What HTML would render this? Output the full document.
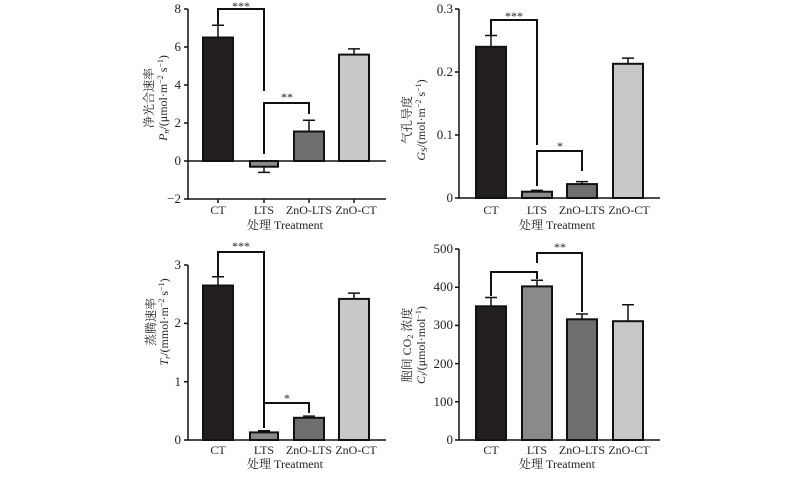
<!DOCTYPE html>
<html><head><meta charset="utf-8"><style>
body{margin:0;background:#fff}
text{font-family:"Liberation Serif","Noto Serif CJK SC",serif;fill:#222}
</style></head><body>
<svg width="800" height="474" viewBox="0 0 800 474" xmlns="http://www.w3.org/2000/svg">
<g stroke="#111" stroke-width="1.5" fill="none">
<path d="M188,9 V199 H386 M188,161 H386"/>
<path d="M184,9H188M184,47H188M184,85H188M184,123H188M184,161H188M184,199H188"/>
<path d="M218,199V203M264,199V203M309,199V203M354,199V203"/>
<path d="M218,37.5V25.2M212,25.2H224 M264,166.7V172.4M258,172.4H270 M309,131.5V120.2M303,120.2H315 M354,54.6V48.9M348,48.9H360"/>
<path d="M218,25 V9 H264 V91 M264,154 V103 H309 V114" stroke-width="2"/>
<path d="M459,9 V198 H660"/>
<path d="M455,9H459M455,72H459M455,135H459M455,198H459"/>
<path d="M491,46.8V35.5M485,35.5H497 M537,191.7V190.4M531,190.4H543 M582,184.1V181.6M576,181.6H588 M628,63.8V58.1M622,58.1H634"/>
<path d="M491,35 V20 H537 V145 M537,186 V151 H582 V171" stroke-width="2"/>
<path d="M188,265 V440 H386"/>
<path d="M184,265H188M184,323.4H188M184,381.7H188M184,440H188"/>
<path d="M218,285.5V276.8M212,276.8H224 M264,432.4V430.7M258,430.7H270 M309,417.8V416.1M303,416.1H315 M354,298.9V293.1M348,293.1H360"/>
<path d="M218,276 V252 H264 V428 M264,428 V403 H309 V413" stroke-width="2"/>
<path d="M459,249 V440 H660"/>
<path d="M455,249H459M455,287.2H459M455,325.4H459M455,363.6H459M455,401.8H459M455,440H459"/>
<path d="M491,306.3V297.5M485,297.5H497 M537,286.4V280.3M531,280.3H543 M582,319.3V314M576,314H588 M628,321.2V304.8M622,304.8H634"/>
<path d="M491,296 V272 H537 V279 M537,263 V253 H582 V312" stroke-width="2"/>
</g>
<g stroke="#111" stroke-width="2">
<rect x="203" y="37.5" width="30" height="123.5" fill="#231f20"/>
<rect x="250" y="161" width="28" height="5.7" fill="#8a8a8a"/>
<rect x="294" y="131.5" width="30" height="29.5" fill="#6e6e6e"/>
<rect x="339" y="54.6" width="30" height="106.4" fill="#c8c8c8"/>
<rect x="476" y="46.8" width="30" height="151.2" fill="#231f20"/>
<rect x="522" y="191.7" width="30" height="6.3" fill="#8a8a8a"/>
<rect x="567" y="184.1" width="30" height="13.9" fill="#6e6e6e"/>
<rect x="613" y="63.8" width="30" height="134.2" fill="#c8c8c8"/>
<rect x="203" y="285.5" width="30" height="154.5" fill="#231f20"/>
<rect x="250" y="432.4" width="28" height="7.6" fill="#8a8a8a"/>
<rect x="294" y="417.8" width="30" height="22.2" fill="#6e6e6e"/>
<rect x="339" y="298.9" width="30" height="141.1" fill="#c8c8c8"/>
<rect x="476" y="306.3" width="30" height="133.7" fill="#231f20"/>
<rect x="522" y="286.4" width="30" height="153.6" fill="#8a8a8a"/>
<rect x="567" y="319.3" width="30" height="120.7" fill="#6e6e6e"/>
<rect x="613" y="321.2" width="30" height="118.8" fill="#c8c8c8"/>
</g>
<g font-size="13" text-anchor="end">
<text x="181" y="13">8</text><text x="181" y="51">6</text><text x="181" y="89">4</text><text x="181" y="127">2</text><text x="181" y="165">0</text><text x="181" y="203">−2</text>
<text x="453" y="13">0.3</text><text x="453" y="76">0.2</text><text x="453" y="139">0.1</text><text x="453" y="202">0</text>
<text x="181" y="269">3</text><text x="181" y="327">2</text><text x="181" y="386">1</text><text x="181" y="444">0</text>
<text x="453" y="253">500</text><text x="453" y="291">400</text><text x="453" y="329">300</text><text x="453" y="368">200</text><text x="453" y="406">100</text><text x="453" y="444">0</text>
</g>
<g font-size="12" text-anchor="middle">
<text x="218" y="214">CT</text><text x="264" y="214">LTS</text><text x="309" y="214">ZnO-LTS</text><text x="356" y="214">ZnO-CT</text>
<text x="491" y="214">CT</text><text x="537" y="214">LTS</text><text x="582" y="214">ZnO-LTS</text><text x="629" y="214">ZnO-CT</text>
<text x="218" y="454">CT</text><text x="264" y="454">LTS</text><text x="309" y="454">ZnO-LTS</text><text x="356" y="454">ZnO-CT</text>
<text x="491" y="454">CT</text><text x="537" y="454">LTS</text><text x="582" y="454">ZnO-LTS</text><text x="629" y="454">ZnO-CT</text>
<text x="285" y="229">处理 Treatment</text><text x="557" y="229">处理 Treatment</text>
<text x="285" y="468">处理 Treatment</text><text x="557" y="468">处理 Treatment</text>
<text x="241" y="10">***</text><text x="287" y="101">**</text>
<text x="514" y="20">***</text><text x="560" y="150">*</text>
<text x="241" y="250">***</text><text x="287" y="402">*</text>
<text x="560" y="251">**</text>
</g>
<g font-size="12" text-anchor="middle">
<text transform="translate(153,98) rotate(-90)">净光合速率</text>
<text transform="translate(167,98) rotate(-90)"><tspan font-style="italic">P</tspan><tspan font-size="8" font-style="italic" dy="2">n</tspan><tspan dy="-2">/(μmol·m</tspan><tspan font-size="8" dy="-4">−2</tspan><tspan dy="4"> s</tspan><tspan font-size="8" dy="-4">−1</tspan><tspan dy="4">)</tspan></text>
<text transform="translate(411,120) rotate(-90)">气孔导度</text>
<text transform="translate(425,120) rotate(-90)"><tspan font-style="italic">G</tspan><tspan font-size="8" dy="2">S</tspan><tspan dy="-2">/(mol·m</tspan><tspan font-size="8" dy="-4">−2</tspan><tspan dy="4"> s</tspan><tspan font-size="8" dy="-4">−1</tspan><tspan dy="4">)</tspan></text>
<text transform="translate(155,322) rotate(-90)">蒸腾速率</text>
<text transform="translate(168,322) rotate(-90)"><tspan font-style="italic">T</tspan><tspan font-size="8" font-style="italic" dy="2">r</tspan><tspan dy="-2">/(mmol·m</tspan><tspan font-size="8" dy="-4">−2</tspan><tspan dy="4"> s</tspan><tspan font-size="8" dy="-4">−1</tspan><tspan dy="4">)</tspan></text>
<text transform="translate(411,345) rotate(-90)">胞间 CO<tspan font-size="8" dy="2">2</tspan><tspan dy="-2"> 浓度</tspan></text>
<text transform="translate(425,345) rotate(-90)"><tspan font-style="italic">C</tspan><tspan font-size="8" font-style="italic" dy="2">i</tspan><tspan dy="-2">/(μmol·mol</tspan><tspan font-size="8" dy="-4">−1</tspan><tspan dy="4">)</tspan></text>
</g>
</svg>
</body></html>
